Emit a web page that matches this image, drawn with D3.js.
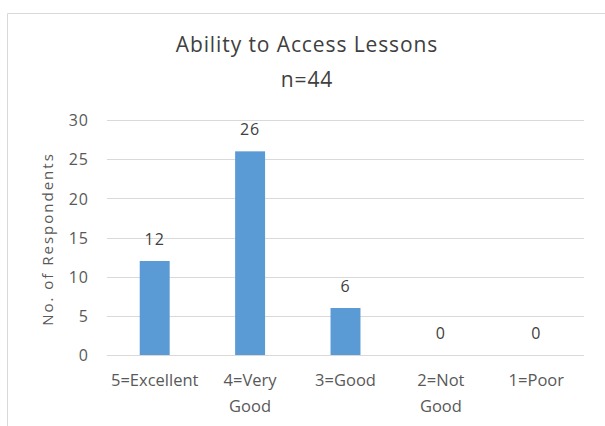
<!DOCTYPE html>
<html><head><meta charset="utf-8">
<script src="https://cdn.jsdelivr.net/npm/d3@7"></script>
<style>body{margin:0;background:#fff}svg{display:block}text{font-family:"Open Sans",sans-serif}</style>
</head><body><svg id="c" width="605" height="426"></svg>
<script>
const categories = [["5=Excellent"], ["4=Very","Good"], ["3=Good"], ["2=Not","Good"], ["1=Poor"]];
const values = [12, 26, 6, 0, 0];
const yTicks = [0, 5, 10, 15, 20, 25, 30];
const title = "Ability to Access Lessons";
const subtitle = "n=44";
const yTitle = "No. of Respondents";

const svg = d3.select("#c");
// chart frame
svg.append("path").attr("d","M7.5,426 V13.5 H605").attr("fill","none").attr("stroke","#d9d9d9");

const pL = 107, pR = 584, pT = 120, pB = 355;
const x = d3.scaleBand().domain(d3.range(categories.length)).range([pL, pR]).paddingInner(0.686).paddingOuter(0.343);
const y = d3.scaleLinear().domain([0, 30]).range([pB, pT]);

const grid = svg.append("g");
grid.selectAll("line").data(yTicks.filter(d=>d>0)).join("line")
  .attr("x1", pL).attr("x2", pR).attr("y1", d=>Math.round(y(d))+0.5).attr("y2", d=>Math.round(y(d))+0.5)
  .attr("stroke","#d9d9d9").attr("stroke-width",1);

const yAxis = svg.append("g").attr("transform",`translate(${pL},0)`)
  .call(d3.axisLeft(y).tickValues(yTicks).tickSize(0).tickPadding(18));
yAxis.select(".domain").remove();
yAxis.selectAll("text").attr("font-size",16).attr("letter-spacing","1px").attr("fill","#595959")
  .style("font-family","'Open Sans',sans-serif").attr("dy","0.36em");

svg.selectAll("rect.bar").data(values).join("rect").attr("class","bar")
  .attr("x",(d,i)=>x(i)).attr("width",x.bandwidth())
  .attr("y",d=>y(d)).attr("height",d=>y(0)-y(d)).attr("fill","#5b9bd5");

svg.append("line").attr("x1",pL).attr("x2",pR).attr("y1",Math.round(y(0))+0.5).attr("y2",Math.round(y(0))+0.5).attr("stroke","#d9d9d9");

svg.selectAll("text.lbl").data(values).join("text").attr("class","lbl")
  .attr("x",(d,i)=>x(i)+x.bandwidth()/2).attr("y",d=>y(d)-16)
  .attr("text-anchor","middle").attr("font-size",16).attr("letter-spacing","1px").attr("fill","#404040").text(d=>d);

const xl = svg.append("g");
categories.forEach((lines,i)=>{
  const cx = x(i)+x.bandwidth()/2;
  const t = xl.append("text").attr("x",cx).attr("y",386)
    .attr("text-anchor","middle").attr("font-size",16.5).attr("fill","#595959");
  lines.forEach((s,j)=>t.append("tspan").attr("x",cx).attr("dy",j?26:0).text(s));
});

svg.append("text").attr("transform",`translate(53,239) rotate(-90)`)
  .attr("text-anchor","middle").attr("font-size",15).attr("letter-spacing","2px").attr("fill","#595959").text(yTitle);

svg.append("text").attr("x",307).attr("y",52).attr("text-anchor","middle").attr("font-size",21).attr("letter-spacing","0.9px").attr("fill","#404040").text(title);
svg.append("text").attr("x",307).attr("y",87).attr("text-anchor","middle").attr("font-size",21).attr("letter-spacing","0.9px").attr("fill","#404040").text(subtitle);
</script></body></html>
